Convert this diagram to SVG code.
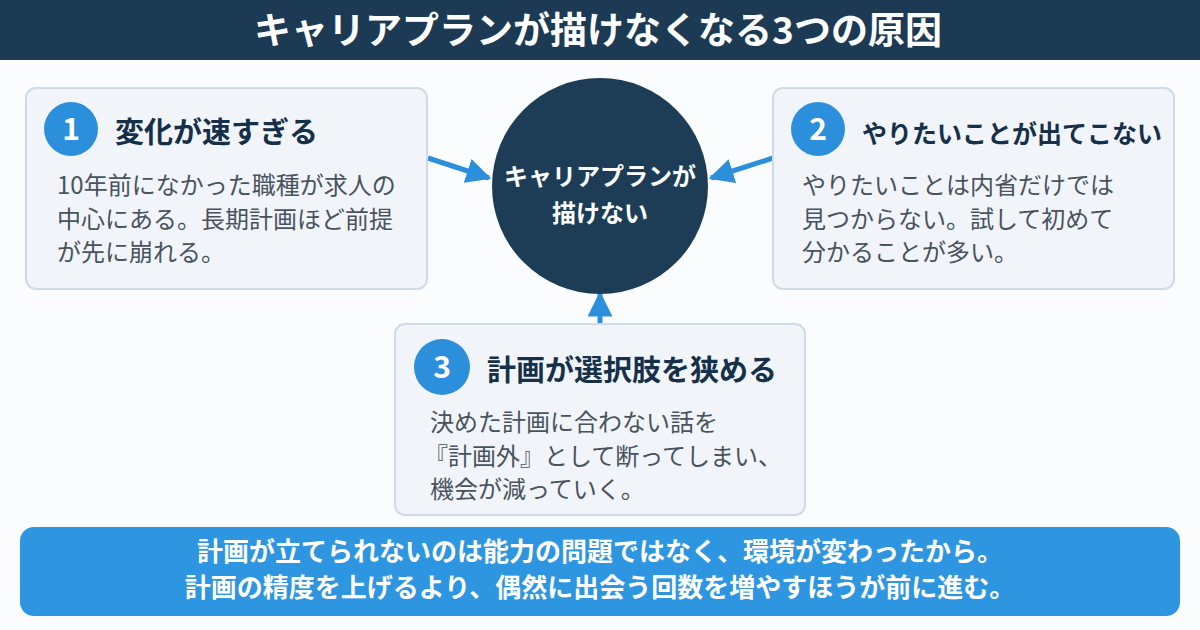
<svg xmlns="http://www.w3.org/2000/svg" width="1200" height="630" viewBox="0 0 1200 630">
<defs>
<style>
text{font-family:"Noto Sans CJK JP","Noto Sans",sans-serif}
.card{fill:#f1f5f9;stroke:#cfdbe7;stroke-width:2}
.badge{fill:#2b8fdb}
.num{fill:#fff;font-size:30px;font-weight:700;text-anchor:middle}
.ttl{fill:#16304a;font-size:29px;font-weight:700}
.body{fill:#48535e;font-size:24px;font-weight:400}
.conn{stroke:#2b8fdb;stroke-width:5;fill:none}
.white{fill:#fff;font-weight:700;text-anchor:middle}
</style>
<marker id="ah" viewBox="0 0 10 10" refX="9" refY="5" markerWidth="5" markerHeight="5" markerUnits="strokeWidth" orient="auto">
<path d="M0,0 L10,5 L0,10 Z" fill="#2b8fdb"/>
</marker>
</defs>
<rect x="0" y="0" width="1200" height="630" fill="#fbfcfd"/>
<g id="header">
<rect x="0" y="0" width="1200" height="60" fill="#1c3a54"/>
<text class="white" x="598" y="44" font-size="37">キャリアプランが描けなくなる3つの原因</text>
</g>
<g id="connectors">
<line class="conn" x1="428" y1="158" x2="489" y2="178" marker-end="url(#ah)"/>
<line class="conn" x1="773" y1="158" x2="711" y2="178" marker-end="url(#ah)"/>
<line class="conn" x1="600" y1="323" x2="600" y2="294" marker-end="url(#ah)"/>
</g>
<g id="center">
<circle cx="600" cy="186" r="108" fill="#1d3d57"/>
<text class="white" x="600" y="185" font-size="24">キャリアプランが</text>
<text class="white" x="600" y="222" font-size="24">描けない</text>
</g>
<g id="card1">
<rect class="card" x="26" y="88" width="401" height="201" rx="10"/>
<circle class="badge" cx="71" cy="129" r="27"/>
<text class="num" x="71" y="140">1</text>
<text class="ttl" x="115" y="143">変化が速すぎる</text>
<text class="body" x="57" y="194">10年前になかった職種が求人の</text>
<text class="body" x="57" y="228">中心にある。長期計画ほど前提</text>
<text class="body" x="57" y="261">が先に崩れる。</text>
</g>
<g id="card2">
<rect class="card" x="773" y="88" width="401" height="201" rx="10"/>
<circle class="badge" cx="818" cy="129" r="27"/>
<text class="num" x="818" y="140">2</text>
<text class="ttl" x="862" y="143" style="font-size:25px">やりたいことが出てこない</text>
<text class="body" x="802" y="194">やりたいことは内省だけでは</text>
<text class="body" x="802" y="228">見つからない。試して初めて</text>
<text class="body" x="802" y="261">分かることが多い。</text>
</g>
<g id="card3">
<rect class="card" x="395" y="324" width="410" height="191" rx="10"/>
<circle class="badge" cx="442" cy="367" r="28"/>
<text class="num" x="442" y="378">3</text>
<text class="ttl" x="487" y="381">計画が選択肢を狭める</text>
<text class="body" x="430" y="431">決めた計画に合わない話を</text>
<text class="body" x="424" y="465">『計画外』として断ってしまい、</text>
<text class="body" x="430" y="498">機会が減っていく。</text>
</g>
<g id="banner">
<rect x="20" y="527" width="1160" height="89" rx="14" fill="#2e95e0"/>
<text class="white" x="600" y="561" font-size="26">計画が立てられないのは能力の問題ではなく、環境が変わったから。</text>
<text class="white" x="600" y="597" font-size="26">計画の精度を上げるより、偶然に出会う回数を増やすほうが前に進む。</text>
</g>
</svg>
